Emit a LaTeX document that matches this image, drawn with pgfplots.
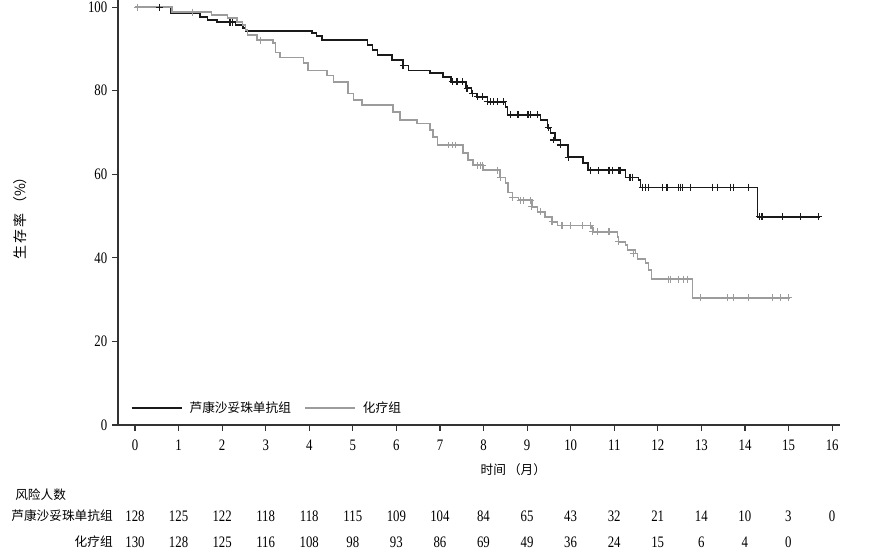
\documentclass[border=0pt]{standalone}
\usepackage{fontspec}
\setmainfont{Liberation Serif}[FakeStretch=0.8]
\newfontfamily\cjk{Noto Sans CJK SC}
\usepackage{pgfplots}
\pgfplotsset{compat=1.18}
\definecolor{blk}{HTML}{1A1A1A}
\definecolor{gry}{HTML}{9C9C9C}
\definecolor{axc}{HTML}{333333}
\begin{document}
\begin{tikzpicture}
\useasboundingbox (0pt,0pt) rectangle (660pt,419.25pt);
\begin{axis}[
 at={(88.5pt,100.5pt)}, anchor=south west,
 scale only axis, width=541.5pt, height=318.75pt,
 xmin=-0.39, xmax=16.18, ymin=0, ymax=101.7,
 axis lines=left, axis line style={axc, line width=1.4pt, -},
 xtick={0,...,16}, ytick={0,20,...,100},
 tick align=outside, major tick length=4.5pt, tick style={axc, line width=0.8pt},
 ticklabel style={font=\fontsize{12}{14}\selectfont, black},
 xticklabel style={yshift=-3pt},
 /pgf/number format/assume math mode=true,
 clip=false,
 legend style={at={(0.012,0.012)}, anchor=south west, draw=none, fill=none,
   font=\cjk\fontsize{9.5}{11}\selectfont, legend columns=2,
   /tikz/every odd column/.append style={column sep=3.5pt},
   /tikz/every even column/.append style={column sep=8pt}},
 legend image code/.code={\draw[#1] (0pt,0pt) -- (37.5pt,0pt);},
]
\addplot[const plot, blk, line width=1pt] coordinates {
(0,100) (0.83,98.6) (1.49,97.6) (1.67,96.9) (1.88,96.4) (2.3,95.7) (2.48,95.0) (2.53,94.3) (4.06,93.8) (4.17,93.1) (4.29,92.1) (5.33,90.9) (5.45,89.7) (5.57,88.5) (5.9,87.3) (6.15,86.1) (6.27,84.9) (6.77,84.2) (7.07,83.3) (7.25,82.1) (7.6,80.6) (7.73,79.4) (7.85,78.5) (8.09,77.3) (8.5,76.1) (8.55,74.2) (9.3,73.0) (9.46,71.1) (9.53,69.9) (9.64,68.2) (9.76,67.0) (9.94,64.1) (10.28,62.7) (10.4,61.0) (11.25,59.3) (11.55,58.6) (11.6,56.9) (14.28,49.8) (15.73,49.8)};
\addlegendentry{芦康沙妥珠单抗组}
\addplot[const plot, gry, line width=1pt] coordinates {
(0,100) (0.85,98.8) (1.76,98.1) (2.13,97.4) (2.34,96.4) (2.46,95.7) (2.53,94.5) (2.58,93.3) (2.8,92.1) (3.17,91.4) (3.22,89.2) (3.33,88.0) (3.86,86.6) (3.97,84.9) (4.41,83.7) (4.55,82.1) (4.89,79.4) (5.01,77.8) (5.21,76.6) (5.92,74.9) (6.08,73.0) (6.47,72.2) (6.77,70.6) (6.84,68.9) (6.94,67.0) (7.53,65.1) (7.64,63.4) (7.76,62.2) (7.99,61.0) (8.38,59.3) (8.5,57.9) (8.56,55.7) (8.66,54.5) (8.8,53.8) (9.11,52.2) (9.23,51.0) (9.41,49.8) (9.57,48.6) (9.69,47.8) (10.49,47.1) (10.51,46.2) (11.07,45.0) (11.09,43.8) (11.25,43.1) (11.3,41.9) (11.48,41.1) (11.53,39.7) (11.71,38.8) (11.78,37.1) (11.85,34.9) (12.79,30.4) (15.04,30.4)};
\addlegendentry{化疗组}
\addplot[only marks, mark=+, mark size=2.6pt, blk, mark options={line width=0.8pt}, forget plot] coordinates {
(0.57,100) (2.18,96.4) (2.23,96.4) (6.15,86.1) (7.28,82.1) (7.39,82.1) (7.51,82.1) (7.62,80.6) (7.74,79.4) (7.85,78.5) (7.97,78.5) (8.08,77.3) (8.15,77.3) (8.22,77.3) (8.31,77.3) (8.45,77.3) (8.61,74.2) (8.79,74.2) (9.02,74.2) (9.07,74.2) (9.23,74.2) (9.48,71.1) (9.6,68.2) (9.76,67.0) (9.94,64.1) (10.45,61.0) (10.63,61.0) (10.86,61.0) (10.9,61.0) (10.95,61.0) (11.09,61.0) (11.13,61.0) (11.36,59.3) (11.41,59.3) (11.64,56.9) (11.71,56.9) (11.78,56.9) (12.1,56.9) (12.21,56.9) (12.47,56.9) (12.51,56.9) (12.56,56.9) (12.74,56.9) (13.25,56.9) (13.36,56.9) (13.66,56.9) (13.73,56.9) (14.07,56.9) (14.33,49.8) (14.39,49.8) (14.85,49.8) (15.27,49.8) (15.68,49.8)};
\addplot[only marks, mark=+, mark size=2.6pt, gry, mark options={line width=0.8pt}, forget plot] coordinates {
(0.05,100) (1.33,98.8) (2.87,92.1) (7.19,67.0) (7.28,67.0) (7.35,67.0) (7.85,62.2) (7.92,62.2) (7.97,62.2) (8.31,61.0) (8.38,59.3) (8.66,54.5) (8.84,53.8) (8.91,53.8) (9.07,53.8) (9.11,52.2) (9.3,51.0) (9.57,48.6) (9.8,47.8) (9.99,47.8) (10.28,47.8) (10.45,47.8) (10.51,46.2) (10.61,46.2) (10.86,46.2) (10.9,46.2) (11.09,43.8) (11.43,41.1) (12.24,34.9) (12.28,34.9) (12.47,34.9) (12.58,34.9) (12.69,34.9) (12.97,30.4) (13.59,30.4) (13.73,30.4) (14.07,30.4) (14.62,30.4) (14.81,30.4) (14.99,30.4)};
\end{axis}
% axis titles
\node[font=\cjk\fontsize{9.5}{11}\selectfont] at (385pt,66.75pt) {时间\,（月）};
\node[font=\cjk\fontsize{10.5}{12}\selectfont, rotate=90] at (15pt,258pt) {生\,存\,率\,（\%）};
% number at risk table
\node[font=\cjk\fontsize{9.5}{11}\selectfont, anchor=west, inner sep=0pt] at (11.25pt,48pt) {风险人数};
\node[font=\cjk\fontsize{9.5}{11}\selectfont, anchor=east, inner sep=0pt] at (84.75pt,32.25pt) {芦康沙妥珠单抗组};
\node[font=\cjk\fontsize{9.5}{11}\selectfont, anchor=east, inner sep=0pt] at (84.75pt,12.75pt) {化疗组};
\foreach \n [count=\i from 0] in {128,125,122,118,118,115,109,104,84,65,43,32,21,14,10,3,0}
  \node[font=\fontsize{12}{14}\selectfont] at ({101.25pt+\i*32.67pt},32.25pt) {\n};
\foreach \n [count=\i from 0] in {130,128,125,116,108,98,93,86,69,49,36,24,15,6,4,0}
  \node[font=\fontsize{12}{14}\selectfont] at ({101.25pt+\i*32.67pt},12.75pt) {\n};
\end{tikzpicture}
\end{document}
